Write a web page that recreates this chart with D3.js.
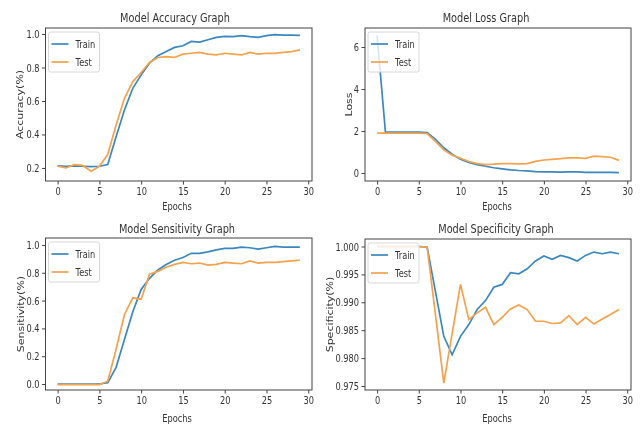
<!DOCTYPE html>
<html>
<head>
<meta charset="utf-8">
<script src="https://cdn.jsdelivr.net/npm/d3@7/dist/d3.min.js"></script>
<style>
body { margin: 0; background: #fff; }
svg { display: block; }
text { font-family: "DejaVu Sans", sans-serif; fill: #333; }
</style>
</head>
<body>
<div id="chart"></div>
<script>
// values
var epochs = [0, 1, 2, 3, 4, 5, 6, 7, 8, 9, 10, 11, 12, 13, 14, 15, 16, 17, 18, 19, 20, 21, 22, 23, 24, 25, 26, 27, 28, 29]

var accTrain = [0.212, 0.21, 0.212, 0.21, 0.208, 0.21, 0.22, 0.386, 0.546, 0.676, 0.756, 0.826, 0.87, 0.896, 0.92, 0.93, 0.956, 0.952, 0.966, 0.98, 0.986, 0.984, 0.99, 0.984, 0.98, 0.99, 0.996, 0.994, 0.994, 0.992]
var accTest = [0.21, 0.2, 0.22, 0.215, 0.18, 0.21, 0.28, 0.456, 0.616, 0.716, 0.77, 0.83, 0.86, 0.865, 0.86, 0.88, 0.885, 0.89, 0.88, 0.875, 0.885, 0.88, 0.875, 0.89, 0.88, 0.885, 0.885, 0.89, 0.895, 0.905]

var lossTrain = [6.55, 1.95, 1.95, 1.95, 1.95, 1.95, 1.93, 1.6, 1.2, 0.9, 0.65, 0.5, 0.4, 0.32, 0.25, 0.2, 0.15, 0.12, 0.1, 0.07, 0.05, 0.05, 0.04, 0.05, 0.05, 0.03, 0.03, 0.03, 0.03, 0.02]
var lossTest = [1.9, 1.9, 1.9, 1.9, 1.9, 1.9, 1.88, 1.5, 1.1, 0.85, 0.7, 0.55, 0.45, 0.4, 0.42, 0.45, 0.45, 0.43, 0.45, 0.55, 0.62, 0.65, 0.68, 0.72, 0.72, 0.7, 0.8, 0.78, 0.75, 0.6]

var sensTrain = [0.0, 0.0, 0.0, 0.0, 0.0, 0.0, 0.01, 0.12, 0.32, 0.52, 0.68, 0.76, 0.82, 0.86, 0.89, 0.91, 0.94, 0.94, 0.95, 0.965, 0.975, 0.975, 0.985, 0.98, 0.97, 0.98, 0.99, 0.985, 0.985, 0.985]
var sensTest = [-0.005, -0.005, -0.005, -0.005, -0.005, -0.005, 0.02, 0.25, 0.5, 0.62, 0.61, 0.79, 0.81, 0.84, 0.86, 0.875, 0.865, 0.87, 0.855, 0.86, 0.875, 0.87, 0.865, 0.885, 0.87, 0.875, 0.875, 0.88, 0.885, 0.89]

var specTrain = [1.0, 1.0, 1.0, 1.0, 1.0, 1.0, 0.9999, 0.9919, 0.9839, 0.9806, 0.9839, 0.986, 0.9887, 0.9903, 0.9927, 0.9932, 0.9953, 0.9951, 0.996, 0.9974, 0.9983, 0.9977, 0.9984, 0.998, 0.9974, 0.9984, 0.999, 0.9987, 0.999, 0.9987]
var specTest = [1.0, 1.0, 1.0, 1.0, 1.0, 1.0, 0.9999, 0.9878, 0.9755, 0.9844, 0.9932, 0.9869, 0.9881, 0.9891, 0.986, 0.9873, 0.9888, 0.9895, 0.9887, 0.9866, 0.9866, 0.9862, 0.9863, 0.9876, 0.986, 0.9873, 0.9861, 0.987, 0.9878, 0.9887]

var xTicks = [0, 5, 10, 15, 20, 25, 30]
var accTicks = [0.2, 0.4, 0.6, 0.8, 1.0]
var lossTicks = [0, 2, 4, 6]
var sensTicks = [0.0, 0.2, 0.4, 0.6, 0.8, 1.0]
var specTicks = [0.975, 0.980, 0.985, 0.990, 0.995, 1.000]

var seriesNames = ["Train", "Test"]
var colors = ["#3a87bf", "#f4a24c"]

var panels = [
    { title: "Model Accuracy Graph", ylabel: "Accuracy(%)", series: [accTrain, accTest], ticks: accTicks, fmt: ".1f",
      x0: 45.5, x1: 312, y0: 28, y1: 181, ylim: [0.122, 1.036], titleX: 175, titleY: 22, labelX: 177, labelY: 210, ylabX: 20 },
    { title: "Model Loss Graph", ylabel: "Loss", series: [lossTrain, lossTest], ticks: lossTicks, fmt: "d",
      x0: 365, x1: 631, y0: 28, y1: 181, ylim: [-0.381, 6.905], titleX: 486, titleY: 22, labelX: 497, labelY: 210, ylabX: 349 },
    { title: "Model Sensitivity Graph", ylabel: "Sensitivity(%)", series: [sensTrain, sensTest], ticks: sensTicks, fmt: ".1f",
      x0: 45.5, x1: 312, y0: 238, y1: 390, ylim: [-0.043, 1.05], titleX: 177, titleY: 233, labelX: 177, labelY: 422, ylabX: 21 },
    { title: "Model Specificity Graph", ylabel: "Specificity(%)", series: [specTrain, specTest], ticks: specTicks, fmt: ".3f",
      x0: 365, x1: 631, y0: 239, y1: 390, ylim: [0.97428, 1.00134], titleX: 496, titleY: 233, labelX: 497, labelY: 422, ylabX: 330 }
]

var squeeze = "scale(0.75,1)"

var svg = d3.select("#chart")
    .append("svg")
    .attr("width", 640)
    .attr("height", 427)

svg.append("defs").append("filter")
    .attr("id", "soft")
    .append("feGaussianBlur")
    .attr("stdDeviation", 0.45)

var root = svg.append("g").attr("filter", "url(#soft)")

panels.forEach(function (p) {
    var x = d3.scaleLinear().domain([-1.45, 30.45]).range([p.x0, p.x1])
    var y = d3.scaleLinear().domain(p.ylim).range([p.y1, p.y0])
    var g = root.append("g")

    // lines
    var line = d3.line()
        .x(function (d, i) { return x(epochs[i]) })
        .y(function (d) { return y(d) })

    g.selectAll("path.series")
        .data(p.series)
        .enter()
        .append("path")
        .attr("class", "series")
        .attr("d", line)
        .style("fill", "none")
        .style("stroke", function (d, i) { return colors[i] })
        .style("stroke-width", 1.7)

    // axes
    var xAxis = g.append("g")
        .attr("transform", "translate(0," + p.y1 + ")")
        .call(d3.axisBottom(x).tickValues(xTicks).tickSize(3.5).tickSizeOuter(0).tickPadding(3))
    var yAxis = g.append("g")
        .attr("transform", "translate(" + p.x0 + ",0)")
        .call(d3.axisLeft(y).tickValues(p.ticks).tickFormat(d3.format(p.fmt)).tickSize(3.5).tickSizeOuter(0).tickPadding(4.5))

    ;[xAxis, yAxis].forEach(function (a) {
        a.select(".domain").remove()
        a.selectAll("line").style("stroke", "#444")
        a.selectAll("text")
            .attr("transform", squeeze)
            .style("font-size", "11px")
            .style("fill", "#333")
    })

    // frame
    g.append("rect")
        .attr("x", p.x0)
        .attr("y", p.y0)
        .attr("width", p.x1 - p.x0)
        .attr("height", p.y1 - p.y0)
        .style("fill", "none")
        .style("stroke", "#444")
        .style("stroke-width", 1)

    // legend
    var lg = g.append("g").attr("transform", "translate(" + (p.x0 + 3) + "," + (p.y0 + 4) + ")")
    lg.append("rect")
        .attr("width", 51)
        .attr("height", 40)
        .attr("rx", 2)
        .style("fill", "#fff")
        .style("fill-opacity", 0.8)
        .style("stroke", "#d8d8d8")
    var items = lg.selectAll("g.item")
        .data(seriesNames)
        .enter()
        .append("g")
        .attr("class", "item")
        .attr("transform", function (d, i) { return "translate(0," + (12 + i * 18) + ")" })
    items.append("line")
        .attr("x1", 3).attr("x2", 20)
        .style("stroke", function (d, i) { return colors[i] })
        .style("stroke-width", 1.7)
    items.append("text")
        .attr("transform", "translate(27,4) " + squeeze)
        .style("font-size", "11px")
        .text(function (d) { return d })

    // titles
    g.append("text")
        .attr("transform", "translate(" + p.titleX + "," + p.titleY + ") " + squeeze)
        .attr("text-anchor", "middle")
        .style("font-size", "13px")
        .text(p.title)
    g.append("text")
        .attr("transform", "translate(" + p.labelX + "," + p.labelY + ") " + squeeze)
        .attr("text-anchor", "middle")
        .style("font-size", "11px")
        .text("Epochs")
    g.append("text")
        .attr("transform", "translate(" + p.ylabX + "," + ((p.y0 + p.y1) / 2) + ") " + squeeze + " rotate(-90)")
        .attr("text-anchor", "middle")
        .attr("dy", "0.35em")
        .style("font-size", "11px")
        .text(p.ylabel)
})
</script>
</body>
</html>
